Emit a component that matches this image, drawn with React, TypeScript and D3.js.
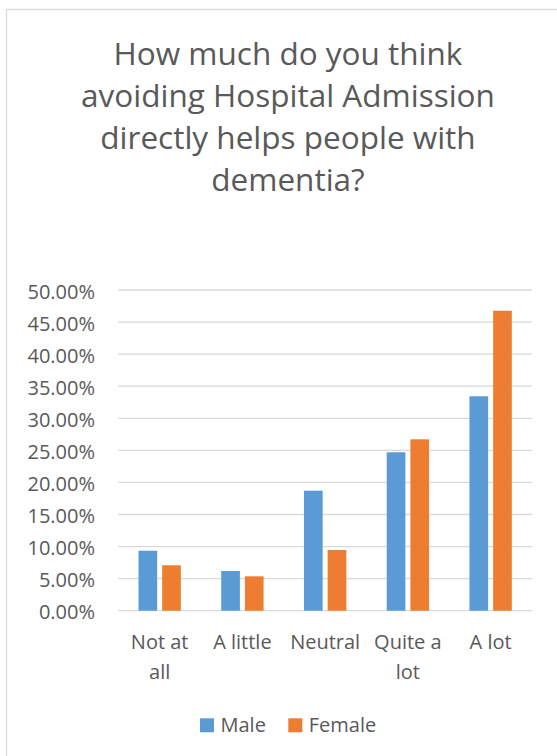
import React from "react";
import * as d3 from "d3";

// Survey responses by gender, as a share of respondents (%)
const categories = ["Not at all", "A little", "Neutral", "Quite a lot", "A lot"];
const categoryLines = [["Not at", "all"], ["A little"], ["Neutral"], ["Quite a", "lot"], ["A lot"]];
const seriesNames = ["Male", "Female"];
const maleValues = [9.35, 6.19, 18.71, 24.7, 33.43];
const femaleValues = [7.08, 5.36, 9.46, 26.72, 46.77];
const yTicks = [0, 5, 10, 15, 20, 25, 30, 35, 40, 45, 50];
const titleLines = [
  "How much do you think",
  "avoiding Hospital Admission",
  "directly helps people with",
  "dementia?",
];

const colors: Record<string, string> = { Male: "#5B9BD5", Female: "#ED7D31" };
const textColor = "#595959";
const gridColor = "#D9D9D9";
const font = "'Open Sans', 'Noto Sans', sans-serif";

const W = 557;
const H = 756;
const plot = { left: 118.3, right: 532, top: 290, bottom: 610.7 };
const chartCenter = 288;

export default function App() {
  const x = d3
    .scaleBand<string>()
    .domain(categories)
    .range([plot.left, plot.right])
    .paddingInner(0)
    .paddingOuter(0);

  const y = d3.scaleLinear().domain([0, 50]).range([plot.bottom, plot.top]);

  const groupHalf = x.bandwidth() * 0.256;
  const inner = d3
    .scaleBand<string>()
    .domain(seriesNames)
    .range([-groupHalf, groupHalf])
    .paddingInner(0.211)
    .paddingOuter(0);

  const valuesBySeries: Record<string, number[]> = {
    Male: maleValues,
    Female: femaleValues,
  };

  const fmt = (v: number) => d3.format(".2f")(v) + "%";

  return (
    <svg
      width={W}
      height={H}
      style={{ position: "absolute", left: 0, top: 0, background: "#fff" }}
      fontFamily={font}
    >
      {/* chart frame */}
      <rect x={6.5} y={9.5} width={W + 20} height={H + 20} fill="#fff" stroke={gridColor} strokeWidth={1.3} />

      {/* title */}
      <g fill={textColor} fontSize={31.5} textAnchor="middle">
        {titleLines.map((t, i) => (
          <text key={t} x={chartCenter} y={65 + i * 42}>
            {t}
          </text>
        ))}
      </g>

      {/* gridlines and y tick labels */}
      <g>
        {yTicks.map((t) => (
          <g key={t}>
            <line
              x1={plot.left}
              x2={plot.right}
              y1={y(t)}
              y2={y(t)}
              stroke={gridColor}
              strokeWidth={1.3}
            />
            <text
              x={95}
              y={y(t) + 8.5}
              textAnchor="end"
              fontSize={20}
              fill={textColor}
            >
              {fmt(t)}
            </text>
          </g>
        ))}
      </g>

      {/* bars */}
      <g>
        {categories.map((c, ci) => {
          const cx = (x(c) ?? 0) + x.bandwidth() / 2;
          return seriesNames.map((s) => {
            const v = valuesBySeries[s][ci];
            return (
              <rect
                key={c + s}
                x={cx + (inner(s) ?? 0)}
                y={y(v)}
                width={inner.bandwidth()}
                height={y(0) - y(v)}
                fill={colors[s]}
              />
            );
          });
        })}
      </g>

      {/* category labels */}
      <g fill={textColor} fontSize={20} textAnchor="middle">
        {categories.map((c, ci) => {
          const cx = (x(c) ?? 0) + x.bandwidth() / 2;
          return categoryLines[ci].map((line, li) => (
            <text key={c + li} x={cx} y={649.3 + li * 30}>
              {line}
            </text>
          ));
        })}
      </g>

      {/* legend */}
      <g fontSize={20} fill={textColor}>
        {(() => {
          const items: JSX.Element[] = [];
          let lx = 200;
          seriesNames.forEach((s) => {
            items.push(
              <rect key={s + "sw"} x={lx} y={718.3} width={14} height={14} fill={colors[s]} />
            );
            items.push(
              <text key={s + "t"} x={lx + 20.5} y={732.3}>
                {s}
              </text>
            );
            lx += s === "Male" ? 88.3 : 0;
          });
          return items;
        })()}
      </g>
    </svg>
  );
}
